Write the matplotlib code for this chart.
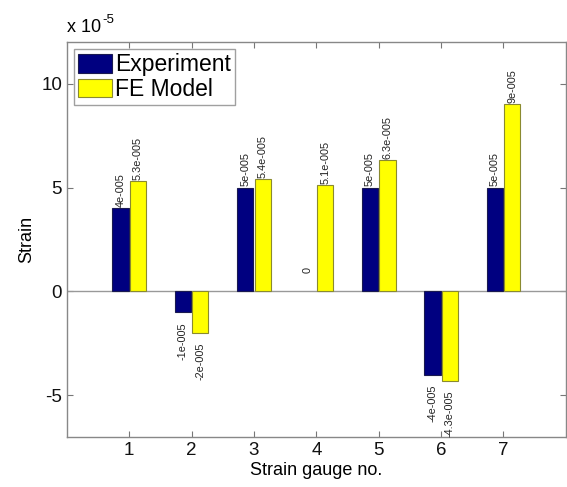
import matplotlib
matplotlib.use("Agg")
import matplotlib.pyplot as plt
import numpy as np

plt.rcParams['font.family'] = ['Liberation Sans', 'DejaVu Sans']
plt.rcParams['axes.unicode_minus'] = False

gauges = [1, 2, 3, 4, 5, 6, 7]
experiment = [4.0, -1.0, 5.0, 0.0, 5.0, -4.0, 5.0]   # x 1e-5
fe_model = [5.3, -2.0, 5.4, 5.1, 6.3, -4.3, 9.0]     # x 1e-5
exp_labels = ['4e-005', '-1e-005', '5e-005', '0', '5e-005', '-4e-005', '5e-005']
fe_labels = ['5.3e-005', '-2e-005', '5.4e-005', '5.1e-005', '6.3e-005', '-4.3e-005', '9e-005']
yticks = [-5, 0, 5, 10]

fig = plt.figure(figsize=(5.67, 4.87), dpi=100)
ax = fig.add_axes([0.118, 0.1027, 0.880, 0.8111])

x = np.array(gauges, dtype=float)
w = 0.26
off = 0.14
b1 = ax.bar(x - off, experiment, w, color='#000080', edgecolor='#1a1a50', linewidth=0.8,
            label='Experiment', zorder=3)
b2 = ax.bar(x + off, fe_model, w, color='#ffff00', edgecolor='#8a8a30', linewidth=0.8,
            label='FE Model', zorder=3)
for rect in list(b1) + list(b2):
    if rect.get_height() == 0:
        rect.set_linewidth(0)

for bars, labels in ((b1, exp_labels), (b2, fe_labels)):
    for rect, lab in zip(bars, labels):
        h = rect.get_height()
        cx = rect.get_x() + rect.get_width() / 2
        if h > 0:
            ax.annotate(lab, (cx, h), xytext=(0, 1), textcoords='offset points',
                        rotation=90, ha='center', va='bottom', fontsize=7.8, color='#222222')
        elif h < 0:
            ax.annotate(lab, (cx, h), xytext=(0, -7), textcoords='offset points',
                        rotation=90, ha='center', va='top', fontsize=7.8, color='#222222')
        else:
            ax.annotate(lab, (cx, h), xytext=(0, 13), textcoords='offset points',
                        rotation=90, ha='center', va='bottom', fontsize=7.8, color='#222222')

ax.axhline(0, color='#999999', linewidth=1.0, zorder=2)
ax.set_xlim(0, 8)
ax.set_ylim(-7, 12)
ax.set_xticks(gauges)
ax.set_yticks(yticks)
ax.tick_params(direction='in', top=True, right=True, labelsize=13.5, length=4,
               color='#777777', labelcolor='#111111')
for s in ax.spines.values():
    s.set_color('#888888')
    s.set_linewidth(1.0)

ax.set_xlabel('Strain gauge no.', fontsize=13, labelpad=2)
ax.set_ylabel('Strain', fontsize=13, labelpad=4)
ax.text(0.0, 1.015, 'x 10', transform=ax.transAxes, fontsize=13,
        ha='left', va='bottom')
ax.text(0.071, 1.04, '-5', transform=ax.transAxes, fontsize=9.5,
        ha='left', va='bottom')

leg = ax.legend(loc='upper left', fontsize=16.5, frameon=True, fancybox=False,
                edgecolor='#888888', handlelength=1.45, handleheight=0.85,
                handletextpad=0.15, borderpad=0.2, labelspacing=0.05,
                borderaxespad=0.3)
leg.get_frame().set_linewidth(1.0)

fig.savefig('out.png', dpi=100)
